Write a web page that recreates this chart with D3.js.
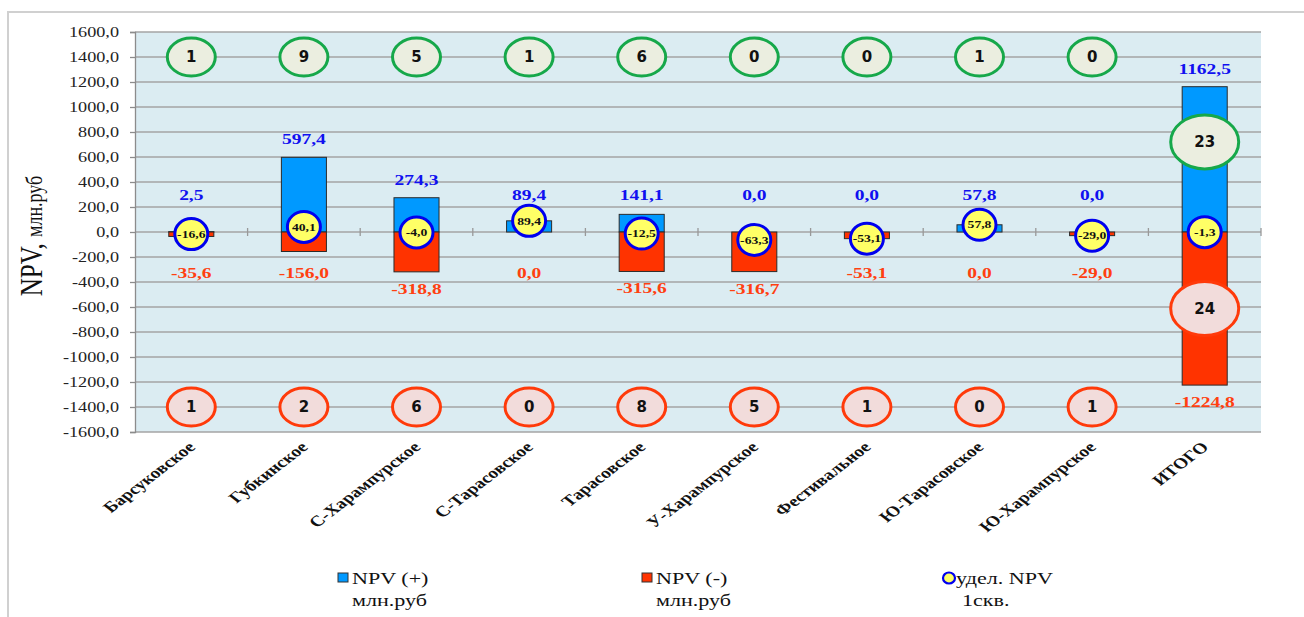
<!DOCTYPE html>
<html>
<head>
<meta charset="utf-8">
<script src="https://cdn.jsdelivr.net/npm/d3@7"></script>
<style>
  body { margin: 0; background: #fff; }
  svg { display: block; }
  .serif { font-family: 'Liberation Serif', 'Times New Roman', Times, 'DejaVu Serif', serif; }
  .sans { font-family: 'DejaVu Sans', Verdana, sans-serif; }
</style>
</head>
<body>
<div id="chart"></div>
<script>
'use strict';

var categories = ['Барсуковское', 'Губкинское', 'С-Харампурское', 'С-Тарасовское', 'Тарасовское',
  'У-Харампурское', 'Фестивальное', 'Ю-Тарасовское', 'Ю-Харампурское', 'ИТОГО'];
var npvPos = [2.5, 597.4, 274.3, 89.4, 141.1, 0.0, 0.0, 57.8, 0.0, 1162.5];
var npvNeg = [-35.6, -156.0, -318.8, 0.0, -315.6, -316.7, -53.1, 0.0, -29.0, -1224.8];
var npvWell = [-16.6, 40.1, -4.0, 89.4, -12.5, -63.3, -53.1, 57.8, -29.0, -1.3];
var wellsPos = [1, 9, 5, 1, 6, 0, 0, 1, 0, 23];
var wellsNeg = [1, 2, 6, 0, 8, 5, 1, 0, 1, 24];
var yTicks = d3.range(-1600, 1601, 200);
var legendLabels = [['NPV (+)', 'млн.руб'], ['NPV (-)', 'млн.руб'], ['удел. NPV', '1скв.']];

var width = 1304;
var height = 617;
var plot = { left: 135, right: 1261, top: 32, bottom: 432 };
var stretch = 1.3; // the original picture is wider than tall, text looks stretched

var blue = '#0099ff';
var red = '#ff3300';
var blueText = '#1010f0';
var redText = '#ff4010';

var fmt = function (v) { return d3.format('.1f')(v).replace('.', ',').replace('−', '-'); };
var at = function (px, py) { return 'translate(' + px + ',' + py + ') scale(' + stretch + ',1)'; };

var svg = d3.select('#chart').append('svg').attr('width', width).attr('height', height);

// outer frame
svg.append('rect').attr('x', 8).attr('y', 12).attr('width', width + 20).attr('height', height + 20)
  .attr('fill', 'none').attr('stroke', '#d0d0d0').attr('stroke-width', 2);

var x = d3.scaleBand().domain(categories).range([plot.left, plot.right]).padding(0);
var y = d3.scaleLinear().domain([-1600, 1600]).range([plot.bottom, plot.top]);
var y0 = y(0);
var barW = x.bandwidth() * 0.4;
var cx = function (i) { return x(categories[i]) + x.bandwidth() / 2; };

// plot background
svg.append('rect').attr('x', plot.left).attr('y', plot.top)
  .attr('width', plot.right - plot.left).attr('height', plot.bottom - plot.top)
  .attr('fill', '#dbecf2');

// grid
svg.append('g').selectAll('line').data(yTicks).enter().append('line')
  .attr('x1', plot.left).attr('x2', plot.right)
  .attr('y1', function (d) { return y(d); }).attr('y2', function (d) { return y(d); })
  .attr('stroke', '#a4a4a4').attr('stroke-width', 1.3);

// y axis
var yAxis = svg.append('g').attr('transform', 'translate(' + plot.left + ',0)')
  .call(d3.axisLeft(y).tickValues(yTicks).tickFormat(fmt).tickSize(5).tickPadding(10));
yAxis.attr('font-family', null).attr('font-size', null);
yAxis.selectAll('path, line').attr('stroke', '#8c8c8c').attr('stroke-width', 1.3);
yAxis.selectAll('text').attr('class', 'serif').attr('x', 0).attr('transform', at(-16, 0))
  .style('font-size', '14px').attr('fill', '#222');

// x axis ticks on zero line
var xTickPos = categories.map(function (c) { return x(c) + x.bandwidth(); });
svg.append('g').selectAll('line').data(xTickPos).enter().append('line')
  .attr('x1', function (d) { return d; }).attr('x2', function (d) { return d; })
  .attr('y1', y0 - 4).attr('y2', y0 + 4).attr('stroke', '#999').attr('stroke-width', 1.3);

// category labels
svg.append('g').selectAll('text').data(categories).enter().append('text')
  .attr('class', 'serif')
  .attr('transform', function (d, i) { return at(cx(i) + 5, plot.bottom + 16) + ' rotate(-45)'; })
  .attr('text-anchor', 'end').style('font-weight', 'bold')
  .style('font-size', '15px').attr('fill', '#111').text(function (d) { return d; });

// bars
var bars = svg.append('g');
bars.selectAll('rect.pos').data(npvPos).enter().append('rect').attr('class', 'pos')
  .attr('x', function (d, i) { return cx(i) - barW / 2; })
  .attr('width', barW)
  .attr('y', function (d) { return y(d); })
  .attr('height', function (d) { return y0 - y(d); })
  .attr('fill', blue).attr('stroke', '#2b2b2b').attr('stroke-width', 1);
bars.selectAll('rect.neg').data(npvNeg).enter().append('rect').attr('class', 'neg')
  .attr('x', function (d, i) { return cx(i) - barW / 2; })
  .attr('width', barW)
  .attr('y', y0)
  .attr('height', function (d) { return y(d) - y0; })
  .attr('fill', red).attr('stroke', '#2b2b2b').attr('stroke-width', 1);

// value labels
svg.append('g').selectAll('text').data(npvPos).enter().append('text')
  .attr('class', 'serif')
  .attr('transform', function (d, i) { return at(cx(i), Math.min(y(d) - 13, y0 - 32)); })
  .attr('text-anchor', 'middle').style('font-weight', 'bold')
  .style('font-size', '15px').attr('fill', blueText).text(fmt);
svg.append('g').selectAll('text').data(npvNeg).enter().append('text')
  .attr('class', 'serif')
  .attr('transform', function (d, i) { return at(cx(i), Math.max(y(d) + 22, y0 + 46)); })
  .attr('text-anchor', 'middle').style('font-weight', 'bold')
  .style('font-size', '15px').attr('fill', redText).text(fmt);

// well count ellipses
function countBubble(data, kind) {
  var last = categories.length - 1;
  var g = svg.append('g').selectAll('g').data(data).enter().append('g')
    .attr('transform', function (d, i) {
      var cy;
      if (i === last) {
        cy = kind === 'pos' ? y(npvPos[i] * 0.62) : y(npvNeg[i] * 0.5);
      } else {
        cy = kind === 'pos' ? y(1400) : y(-1400);
      }
      return 'translate(' + cx(i) + ',' + cy + ')';
    });
  g.append('ellipse')
    .attr('rx', function (d, i) { return i === last ? 34 : 24; })
    .attr('ry', function (d, i) { return i === last ? 27 : 19; })
    .attr('fill', kind === 'pos' ? '#ebeee0' : '#f2dcdb')
    .attr('stroke', kind === 'pos' ? '#16a84a' : '#ff3a0a').attr('stroke-width', 3);
  g.append('text').attr('class', 'sans').attr('text-anchor', 'middle').attr('dy', '0.36em')
    .style('font-weight', 'bold').style('font-size', '15px')
    .attr('fill', '#111').text(function (d) { return d; });
}
countBubble(wellsPos, 'pos');
countBubble(wellsNeg, 'neg');

// specific NPV markers
var marks = svg.append('g').selectAll('g').data(npvWell).enter().append('g')
  .attr('transform', function (d, i) { return 'translate(' + cx(i) + ',' + y(d) + ')'; });
marks.append('ellipse').attr('rx', 16.5).attr('ry', 15.5)
  .attr('fill', '#ffff66').attr('stroke', '#0000ee').attr('stroke-width', 3);
marks.append('text').attr('class', 'serif').attr('text-anchor', 'middle').attr('dy', '0.35em')
  .attr('transform', 'scale(' + stretch + ',1)')
  .style('font-weight', 'bold').style('font-size', '10.5px')
  .attr('fill', '#111').text(fmt);

// y title
svg.append('text').attr('class', 'serif')
  .attr('transform', at(42, y0 + 4) + ' rotate(-90)')
  .attr('text-anchor', 'middle').attr('fill', '#111')
  .call(function (t) {
    t.append('tspan').style('font-size', '25px').text('NPV, ');
    t.append('tspan').style('font-size', '18px').text('млн.руб');
  });

// legend
var legendX = [338, 642, 942];
var legend = svg.append('g').selectAll('g').data(legendLabels).enter().append('g')
  .attr('transform', function (d, i) { return 'translate(' + legendX[i] + ',0)'; });
legend.each(function (d, i) {
  var g = d3.select(this);
  if (i < 2) {
    g.append('rect').attr('x', 0).attr('y', 573).attr('width', 10).attr('height', 9)
      .attr('fill', i === 0 ? blue : red).attr('stroke', '#333').attr('stroke-width', 1);
  } else {
    g.append('ellipse').attr('cx', 7).attr('cy', 578).attr('rx', 6).attr('ry', 5.5)
      .attr('fill', '#ffff66').attr('stroke', '#0000ee').attr('stroke-width', 2.2);
  }
  g.append('text').attr('class', 'serif').attr('transform', at(14, 584))
    .style('font-size', '17px').attr('fill', '#111').text(d[0]);
  g.append('text').attr('class', 'serif').attr('transform', at(i < 2 ? 14 : 20, 606))
    .style('font-size', '17px').attr('fill', '#111').text(d[1]);
});
</script>
</body>
</html>
